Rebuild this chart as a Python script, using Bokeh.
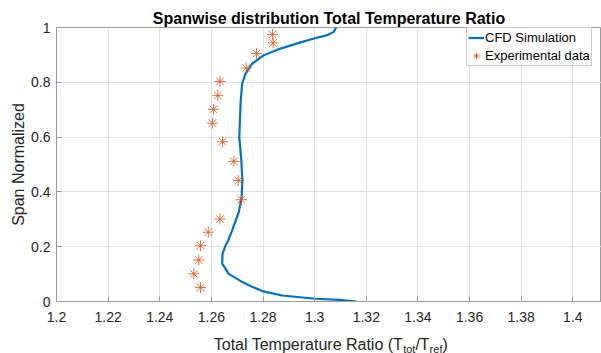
from bokeh.plotting import figure
from bokeh.layouts import column
from bokeh.models import Range1d, FixedTicker, CustomJSTickFormatter, Label
from bokeh.embed import file_html
from bokeh.resources import INLINE

# ---------------- data ----------------
title_text = "Spanwise distribution Total Temperature Ratio"
y_label = "Span Normalized"
x_label_parts = [("Total Temperature Ratio (T", "main"), ("tot", "sub"),
                 ("/T", "main"), ("ref", "sub"), (")", "main")]

cfd_span = [0.0, 0.006, 0.010, 0.022, 0.038, 0.055, 0.070, 0.101, 0.138, 0.174,
            0.205, 0.223, 0.259, 0.326, 0.381, 0.442, 0.515, 0.600, 0.722, 0.795,
            0.832, 0.868, 0.899, 0.923, 0.942, 0.960, 0.972, 0.984, 1.0]
cfd_ratio = [1.3162, 1.3094, 1.3003, 1.2874, 1.2797, 1.2755, 1.2722, 1.2667, 1.2642, 1.2643,
             1.2655, 1.2665, 1.2680, 1.2706, 1.2717, 1.2720, 1.2716, 1.2708, 1.2713, 1.2719,
             1.2732, 1.2758, 1.2803, 1.2868, 1.2932, 1.2997, 1.3049, 1.3074, 1.3083]

exp_span = [0.051, 0.101, 0.151, 0.2035, 0.253, 0.3007, 0.3716, 0.442, 0.5115, 0.583,
            0.651, 0.7015, 0.752, 0.803, 0.852, 0.905, 0.944, 0.975]
exp_ratio = [1.2558, 1.2532, 1.2551, 1.2558, 1.2588, 1.2633, 1.2716, 1.2704, 1.2687, 1.2643,
             1.2604, 1.2608, 1.2625, 1.2633, 1.2735, 1.2775, 1.2839, 1.2837]

x_ticks = [1.2, 1.22, 1.24, 1.26, 1.28, 1.3, 1.32, 1.34, 1.36, 1.38, 1.4]
x_tick_labels = ["1.2", "1.22", "1.24", "1.26", "1.28", "1.3", "1.32", "1.34", "1.36", "1.38", "1.4"]
y_ticks = [0, 0.2, 0.4, 0.6, 0.8, 1.0]
y_tick_labels = ["0", "0.2", "0.4", "0.6", "0.8", "1"]

series_names = ["CFD Simulation", "Experimental data"]

# ---------------- styling ----------------
FONT = "Liberation Sans"
TXT = "#262626"
AX = "#9a9a9a"
GRID = "#e2e2e2"
BLUE = "#0072BD"
ORANGE = "#D95319"

W = 601
H_MAIN, H_LAB = 328, 25
ML, MR, MT, MB = 56, 0, 27, 27
FRAME_W = W - ML - MR

p = figure(width=W, height=H_MAIN, output_backend="svg", toolbar_location=None,
           x_range=Range1d(1.2, 1.4111), y_range=Range1d(0, 1),
           min_border_left=ML, min_border_right=MR, min_border_top=MT, min_border_bottom=MB)

p.title.text = title_text
p.title.text_font = FONT
p.title.text_font_size = "16px"
p.title.text_font_style = "bold"
p.title.text_color = "#000000"
p.title.align = "center"
p.title.standoff = 2

def fmt(ticks, labels):
    return CustomJSTickFormatter(args=dict(t=ticks, l=labels), code="""
        let best = 0, bd = 1e9;
        for (let i = 0; i < t.length; i++) { const d = Math.abs(t[i] - tick); if (d < bd) { bd = d; best = i; } }
        return l[best];
    """)

p.xaxis.ticker = FixedTicker(ticks=x_ticks)
p.yaxis.ticker = FixedTicker(ticks=y_ticks)
p.xaxis.formatter = fmt(x_ticks, x_tick_labels)
p.yaxis.formatter = fmt(y_ticks, y_tick_labels)

for ax in (p.xaxis, p.yaxis):
    ax.axis_line_color = AX
    ax.major_tick_line_color = AX
    ax.major_tick_in = 5
    ax.major_tick_out = 0
    ax.minor_tick_line_color = None
    ax.major_label_text_font = FONT
    ax.major_label_text_font_size = "14px"
    ax.major_label_text_color = TXT
    ax.axis_label_text_font = FONT
    ax.axis_label_text_font_size = "16px"
    ax.axis_label_text_font_style = "normal"
    ax.axis_label_text_color = TXT

p.xaxis.major_label_standoff = 10
p.yaxis.major_label_standoff = 6
p.yaxis.axis_label = y_label
p.yaxis.axis_label_standoff = 1

p.grid.grid_line_color = GRID
p.outline_line_color = AX
p.background_fill_color = "white"
p.border_fill_color = "white"

p.line(cfd_ratio, cfd_span, line_color=BLUE, line_width=2.2, line_join="round",
       legend_label=series_names[0])
p.scatter(exp_ratio, exp_span, marker="asterisk", size=11, line_color=ORANGE, line_width=0.8,
          legend_label=series_names[1])

lg = p.legend[0]
lg.location = (410, 235)
lg.label_text_font = FONT
lg.label_text_font_size = "13px"
lg.label_text_color = "#000000"
lg.glyph_width = 16
lg.glyph_height = 17
lg.label_height = 17
lg.label_standoff = 1
lg.spacing = 1
lg.padding = 1
lg.margin = 0
lg.border_line_color = AX
lg.background_fill_alpha = 1

# ---------------- x-axis label strip (with subscripts) ----------------
q = figure(width=W, height=H_LAB, output_backend="svg", toolbar_location=None,
           title_location=None,
           x_range=Range1d(0, FRAME_W), y_range=Range1d(0, H_LAB),
           x_axis_type=None, y_axis_type=None,
           min_border_left=ML, min_border_right=MR, min_border_top=0, min_border_bottom=0)
q.grid.visible = False
q.outline_line_color = None
q.background_fill_color = "white"
q.border_fill_color = "white"

ARIAL = {"T": 611, "o": 556, "t": 278, "a": 556, "l": 222, " ": 278, "e": 556, "m": 833,
         "p": 556, "r": 333, "u": 556, "R": 722, "i": 222, "(": 333, ")": 333, "/": 278, "f": 278}
MAIN_FS, SUB_FS = 16, 11
def width(s, fs):
    return sum(ARIAL.get(c, 556) for c in s) * fs / 1000.0

sizes = [MAIN_FS if k == "main" else SUB_FS for _, k in x_label_parts]
total = sum(width(s, fs) for (s, _), fs in zip(x_label_parts, sizes))
first_w = width(x_label_parts[0][0], sizes[0])
xpos = FRAME_W / 2 - total / 2 + first_w   # right end of first piece
for i, ((s, k), fs) in enumerate(zip(x_label_parts, sizes)):
    yb = 9 if k == "main" else 5
    align = "right" if i == 0 else "left"
    q.add_layout(Label(x=xpos, y=yb, text=s,
                       text_font=FONT, text_font_size=f"{fs}px", text_color=TXT,
                       text_baseline="alphabetic", text_align=align))
    if i > 0:
        xpos += width(s, fs)

layout = column(p, q, spacing=0)
open("out.html", "w").write(file_html(layout, INLINE))
